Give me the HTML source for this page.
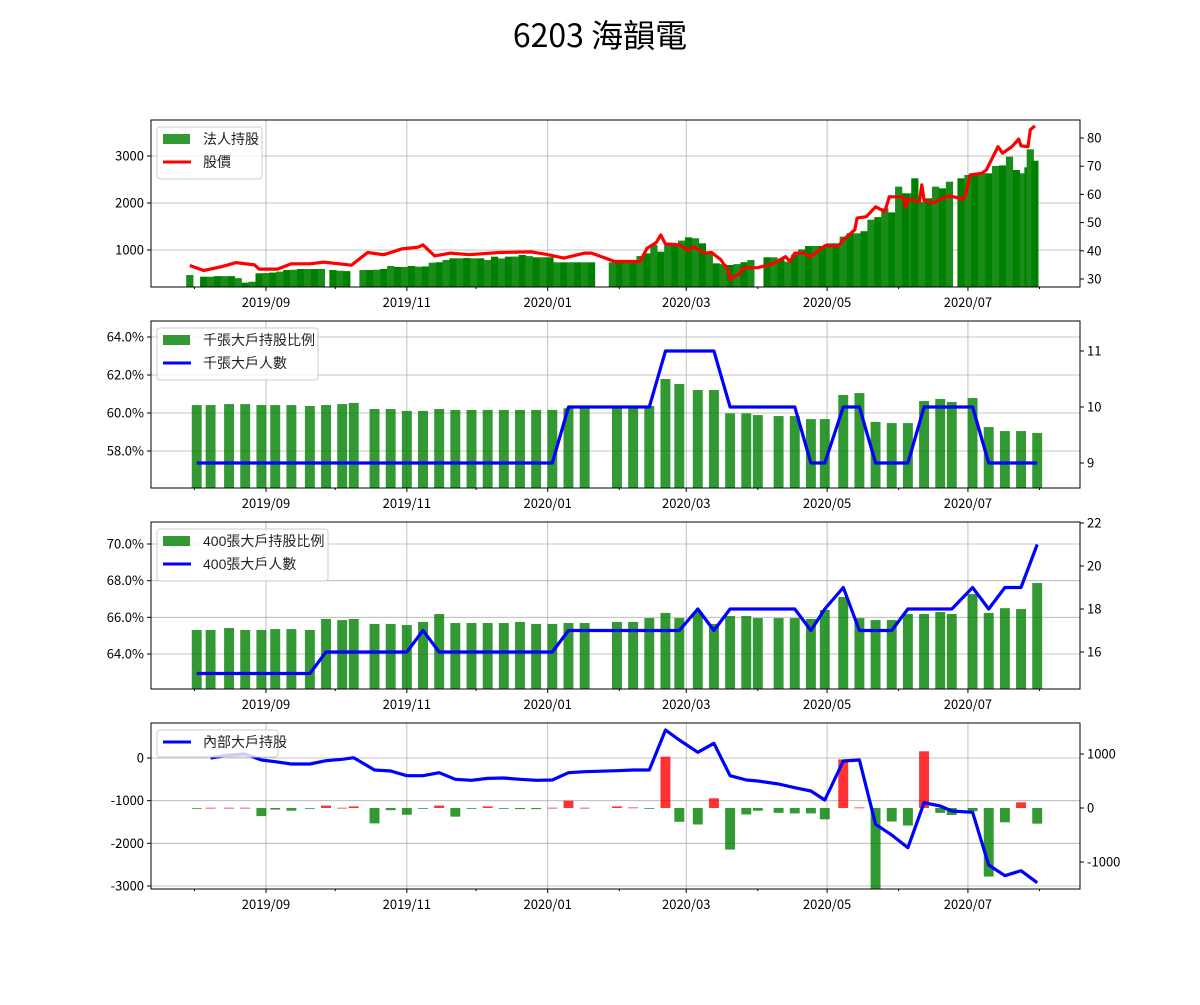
<!DOCTYPE html>
<html><head><meta charset="utf-8"><style>
body{margin:0;background:#fff;width:1200px;height:1000px;overflow:hidden}
svg text{font-family:"Liberation Sans","Noto Sans CJK TC",sans-serif}
svg text.tk{font-family:"Noto Sans CJK TC","Liberation Sans",sans-serif}
</style></head><body>
<svg id="chart" width="1200" height="1000" xmlns="http://www.w3.org/2000/svg">
<rect width="1200" height="1000" fill="#fff"/>
<text x="600" y="47" text-anchor="middle" font-size="32" fill="#000" style="font-family:'Noto Sans CJK TC',sans-serif">6203 海韻電</text>
</svg>
<script>
// ---- data ----
const weekDates=["2019-08-02","2019-08-08","2019-08-16","2019-08-23","2019-08-30","2019-09-05","2019-09-12","2019-09-20","2019-09-27","2019-10-04","2019-10-09","2019-10-18","2019-10-25","2019-11-01","2019-11-08","2019-11-15","2019-11-22","2019-11-29","2019-12-06","2019-12-13","2019-12-20","2019-12-27","2020-01-03","2020-01-10","2020-01-17","2020-01-31","2020-02-07","2020-02-14","2020-02-21","2020-02-27","2020-03-06","2020-03-13","2020-03-20","2020-03-27","2020-04-01","2020-04-10","2020-04-17","2020-04-24","2020-04-30","2020-05-08","2020-05-15","2020-05-22","2020-05-29","2020-06-05","2020-06-12","2020-06-19","2020-06-24","2020-07-03","2020-07-10","2020-07-17","2020-07-24","2020-07-31"];
const big1000Pct=[60.42,60.42,60.47,60.47,60.42,60.42,60.42,60.37,60.42,60.47,60.53,60.21,60.21,60.11,60.11,60.21,60.16,60.16,60.16,60.16,60.16,60.16,60.16,60.25,60.25,60.25,60.25,60.37,61.79,61.53,61.21,61.21,59.98,59.98,59.89,59.84,59.84,59.68,59.68,60.95,61.05,59.53,59.47,59.47,60.63,60.74,60.58,60.79,59.26,59.05,59.05,58.95];
const big1000Cnt=[9,9,9,9,9,9,9,9,9,9,9,9,9,9,9,9,9,9,9,9,9,9,9,10,10,10,10,10,11,11,11,11,10,10,10,10,10,9,9,10,10,9,9,9,10,10,10,10,9,9,9,9];
const big400Pct=[65.31,65.31,65.42,65.31,65.31,65.36,65.36,65.31,65.91,65.85,65.91,65.64,65.64,65.58,65.75,66.18,65.69,65.69,65.69,65.69,65.75,65.64,65.64,65.69,65.69,65.75,65.75,65.96,66.24,65.96,66.29,65.64,66.07,66.07,65.96,65.96,65.96,65.91,66.4,67.11,65.96,65.85,65.85,66.18,66.18,66.29,66.18,67.27,66.24,66.5,66.45,67.87];
const big400Cnt=[15,15,15,15,15,15,15,15,16,16,16,16,16,16,17,16,16,16,16,16,16,16,16,17,17,17,17,17,17,17,18,17,18,18,18,18,18,17,18,19,17,17,17,18,18,18,18,19,18,19,19,21];
const insiderHold=[null,0,70,94,-47,-87,-141,-141,-63,-30,7,-281,-305,-414,-414,-344,-500,-523,-477,-469,-500,-523,-516,-344,-320,-297,-281,-281,656,422,133,344,-414,-516,-539,-609,-695,-773,-984,-70,-47,-1555,-1805,-2102,-1047,-1125,-1242,-1273,-2508,-2758,-2641,-2922];
const insiderChg=[0,5,5,5,-150,-30,-50,-10,45,5,30,-285,-40,-125,-10,45,-160,-15,30,0,-20,-20,5,135,5,30,10,0,950,-255,-305,180,-770,-120,-50,-90,-100,-100,-210,900,10,-1600,-250,-325,1050,-90,-130,-60,-1270,-265,105,-290];
const priceDates=["2019-07-30","2019-08-05","2019-08-13","2019-08-19","2019-08-27","2019-08-29","2019-09-06","2019-09-12","2019-09-20","2019-09-26","2019-10-08","2019-10-15","2019-10-22","2019-10-30","2019-11-06","2019-11-08","2019-11-13","2019-11-20","2019-11-28","2019-12-11","2019-12-25","2019-12-31","2020-01-08","2020-01-17","2020-01-20","2020-01-30","2020-02-10","2020-02-13","2020-02-17","2020-02-19","2020-02-21","2020-02-27","2020-03-02","2020-03-04","2020-03-09","2020-03-12","2020-03-16","2020-03-19","2020-03-20","2020-03-24","2020-03-26","2020-04-01","2020-04-08","2020-04-13","2020-04-15","2020-04-17","2020-04-21","2020-04-24","2020-04-30","2020-05-06","2020-05-08","2020-05-13","2020-05-14","2020-05-18","2020-05-22","2020-05-26","2020-05-28","2020-06-03","2020-06-04","2020-06-05","2020-06-10","2020-06-11","2020-06-12","2020-06-16","2020-06-19","2020-06-23","2020-06-29","2020-06-30","2020-07-02","2020-07-07","2020-07-09","2020-07-14","2020-07-16","2020-07-20","2020-07-23","2020-07-24","2020-07-27","2020-07-28","2020-07-30"];
const priceVals=[34.8,33.0,34.4,35.8,35.0,33.5,33.5,35.4,35.4,36.0,34.9,39.4,38.6,40.7,41.3,42.1,38.2,39.2,38.6,39.4,39.6,38.8,37.4,39.2,39.2,36.2,36.2,40.9,42.9,45.6,42.4,42.1,40.1,41.5,39.2,39.4,36.8,33.2,29.9,31.8,34.0,34.0,35.6,37.9,36.2,39.2,39.2,37.9,41.8,41.8,43.9,47.4,51.6,52.1,55.6,53.9,59.2,59.0,55.5,58.3,57.4,63.4,57.9,56.9,58.3,59.5,58.3,59.8,66.9,67.5,68.7,76.9,74.6,76.9,79.6,77.2,76.9,82.9,84.3];
const holdDates=["2019-07-30","2019-08-05","2019-08-08","2019-08-11","2019-08-14","2019-08-17","2019-08-20","2019-08-23","2019-08-26","2019-08-29","2019-09-01","2019-09-04","2019-09-07","2019-09-10","2019-09-13","2019-09-16","2019-09-19","2019-09-22","2019-09-25","2019-09-30","2019-10-03","2019-10-06","2019-10-13","2019-10-16","2019-10-19","2019-10-22","2019-10-25","2019-10-28","2019-10-31","2019-11-03","2019-11-06","2019-11-09","2019-11-12","2019-11-15","2019-11-18","2019-11-21","2019-11-24","2019-11-27","2019-11-30","2019-12-03","2019-12-06","2019-12-09","2019-12-12","2019-12-15","2019-12-18","2019-12-21","2019-12-24","2019-12-27","2019-12-30","2020-01-02","2020-01-05","2020-01-08","2020-01-11","2020-01-14","2020-01-17","2020-01-20","2020-01-29","2020-02-01","2020-02-04","2020-02-07","2020-02-10","2020-02-13","2020-02-16","2020-02-19","2020-02-22","2020-02-25","2020-02-28","2020-03-02","2020-03-05","2020-03-08","2020-03-11","2020-03-14","2020-03-17","2020-03-20","2020-03-23","2020-03-26","2020-03-29","2020-04-05","2020-04-08","2020-04-11","2020-04-14","2020-04-17","2020-04-20","2020-04-23","2020-04-26","2020-04-29","2020-05-02","2020-05-05","2020-05-08","2020-05-11","2020-05-14","2020-05-17","2020-05-20","2020-05-23","2020-05-26","2020-05-29","2020-06-01","2020-06-04","2020-06-07","2020-06-08","2020-06-11","2020-06-14","2020-06-17","2020-06-20","2020-06-23","2020-06-28","2020-07-01","2020-07-04","2020-07-07","2020-07-10","2020-07-13","2020-07-16","2020-07-19","2020-07-22","2020-07-25","2020-07-27","2020-07-28","2020-07-30"];
const holdVals=[468,432,432,444,444,444,400,305,325,504,510,520,540,574,580,596,596,596,596,574,560,551,574,574,580,596,660,638,640,660,645,650,730,740,787,823,823,830,823,823,787,858,820,858,860,894,870,845,845,845,738,738,738,738,738,738,738,751,751,751,872,929,1106,965,1106,1106,1200,1270,1250,1142,929,716,700,681,700,740,787,845,845,800,751,900,1014,1085,1085,1085,1142,1142,1284,1355,1355,1400,1645,1700,1887,1800,2348,2206,2206,2525,2028,2100,2348,2312,2454,2525,2596,2632,2632,2632,2787,2800,2986,2702,2632,2759,3142,2900];
const xMajor=["2019-09-01","2019-11-01","2020-01-01","2020-03-01","2020-05-01","2020-07-01"];
const xMajorLabels=["2019/09","2019/11","2020/01","2020/03","2020/05","2020/07"];
const xMinor=["2019-08-01","2019-10-01","2019-12-01","2020-02-01","2020-04-01","2020-06-01","2020-08-01"];
</script>
<script>
const NS="http://www.w3.org/2000/svg";
const svg=document.getElementById('chart');
const L=151,R=1080;
const T0=Date.UTC(2019,8,1);
function days(s){const p=s.split('-');return (Date.UTC(+p[0],+p[1]-1,+p[2])-T0)/86400000;}
function X(s){return 266+days(s)*2.309;}
function mk(tag,attrs,parent){const e=document.createElementNS(NS,tag);for(const k in attrs)e.setAttribute(k,attrs[k]);(parent||svg).appendChild(e);return e;}
function lin(v0,y0,v1,y1){return v=>y0+(v-v0)*(y1-y0)/(v1-v0);}
const panels=[
 {id:'p1',top:120,bot:287,yl:lin(1000,250,3000,156),yr:lin(30,279,80,138),lt:[1000,2000,3000],lf:v=>String(v),rt:[30,40,50,60,70,80],rf:v=>String(v)},
 {id:'p2',top:321,bot:488,yl:lin(60,413,62,375),yr:lin(9,463,11,351),lt:[58,60,62,64],lf:v=>v.toFixed(1)+'%',rt:[9,10,11],rf:v=>String(v)},
 {id:'p3',top:522,bot:689,yl:lin(64,654,70,544),yr:lin(16,652,22,523),lt:[64,66,68,70],lf:v=>v.toFixed(1)+'%',rt:[16,18,20,22],rf:v=>String(v)},
 {id:'p4',top:723,bot:889,yl:lin(0,758,-3000,886),yr:lin(0,808,1000,754),lt:[-3000,-2000,-1000,0],lf:v=>String(v),rt:[-1000,0,1000],rf:v=>String(v)}
];
panels.forEach((p,i)=>{
 const g=mk('g',{});
 
 
 p.g=g;
 const cp=mk('clipPath',{id:'clip'+i},g);
 mk('rect',{x:L,y:p.top,width:R-L,height:p.bot-p.top},cp);
 p.clip='url(#clip'+i+')';
 xMajor.forEach(d=>{const x=X(d);const l=mk('line',{x1:x,x2:x,y1:p.top,y2:p.bot,stroke:'#b0b0b0','stroke-width':0.8},g);});
 p.lt.forEach(v=>{const y=p.yl(v);const l=mk('line',{x1:L,x2:R,y1:y,y2:y,stroke:'#b0b0b0','stroke-width':0.8},g);});
});
function frame(p,i){
 const g=p.g;
 const fr=mk('rect',{x:L,y:p.top,width:R-L,height:p.bot-p.top,fill:'none',stroke:'#000','stroke-width':1},g);
 
 p.lt.forEach(v=>{const y=p.yl(v);mk('line',{x1:L-4,x2:L,y1:y,y2:y,stroke:'#000'},g);
  const t=mk('text',{class:'tk',x:L-7,y:y+4.5,'text-anchor':'end','font-size':13,fill:'#000'},g);t.textContent=p.lf(v);
  });
 p.rt.forEach(v=>{const y=p.yr(v);mk('line',{x1:R,x2:R+4,y1:y,y2:y,stroke:'#000'},g);
  const t=mk('text',{class:'tk',x:R+7,y:y+4.5,'font-size':13,fill:'#000'},g);t.textContent=p.rf(v);
  });
 xMajor.forEach((d,k)=>{const x=X(d);mk('line',{x1:x,x2:x,y1:p.bot,y2:p.bot+4,stroke:'#000'},g);
  const t=mk('text',{class:'tk',x:x,y:p.bot+20,'text-anchor':'middle','font-size':13,fill:'#000'},g);t.textContent=xMajorLabels[k];
  });
 xMinor.forEach(d=>{const x=X(d);mk('line',{x1:x,x2:x,y1:p.bot,y2:p.bot+2,stroke:'#000'},g);});
}
function legend(p,entries,w){
 const g=mk('g',{},p.g);
 
 const h=entries.length*24+4;
 mk('rect',{x:157,y:p.top+7,width:w,height:h,rx:3,fill:'#fff','fill-opacity':0.8,stroke:'#ccc'},g);
 entries.forEach((e,k)=>{
  const cy=p.top+19+k*23;
  if(e.type==='bar')mk('rect',{x:163,y:cy-5,width:27,height:10,fill:e.color,'fill-opacity':0.8},g);
  else mk('line',{x1:163,x2:191,y1:cy,y2:cy,stroke:e.color,'stroke-width':3},g);
  const t=mk('text',{x:203,y:cy+5,'font-size':14,fill:'#222'},g);t.textContent=e.label;
  
 });
}
function line(p,dates,vals,ys,color,name){
 let d='',pen=false;
 vals.forEach((v,k)=>{if(v===null){pen=false;return;}d+=(pen?'L':'M')+X(dates[k]).toFixed(1)+','+ys(v).toFixed(1);pen=true;});
 const e=mk('path',{d:d,fill:'none',stroke:color,'stroke-width':3.2,'stroke-linejoin':'round','clip-path':p.clip},p.g);
 
}
function bars(p,dates,vals,ys,w,colorFn,name){
 const y0=ys===p.yr&&p.id==='p4'?p.yr(0):p.bot;
 vals.forEach((v,k)=>{
  const x=X(dates[k]);const y=ys(v);
  const top=p.id==='p4'?Math.min(y,y0):y, h=p.id==='p4'?Math.max(Math.abs(y-y0),0.8):(p.bot-y);
  const r=mk('rect',{x:(x-w/2).toFixed(2),y:top.toFixed(2),width:w,height:h.toFixed(2),fill:colorFn(v),'fill-opacity':0.8,'clip-path':p.clip},p.g);
  
 });
}
const [p1,p2,p3,p4]=panels;
const bw=4.3*2.309;
const hb=mk('g',{},p1.g);
holdVals.forEach((v,k)=>{const x=X(holdDates[k]);const y=p1.yl(v);
 const r=mk('rect',{x:(x-3.6).toFixed(2),y:y.toFixed(2),width:7.2,height:(p1.bot-y).toFixed(2),fill:k%2?'#008000':'#1a8c1a','clip-path':p1.clip},hb);
 });
line(p1,priceDates,priceVals,p1.yr,'#ff0000','price-line');
frame(p1);legend(p1,[{type:'bar',color:'green',label:'法人持股'},{type:'line',color:'#ff0000',label:'股價'}],105);
bars(p2,weekDates,big1000Pct,p2.yl,bw,()=>'green','big-1000-pct-bar');
line(p2,weekDates,big1000Cnt,p2.yr,'#0000ff','big-1000-count-line');
frame(p2);legend(p2,[{type:'bar',color:'green',label:'千張大戶持股比例'},{type:'line',color:'#0000ff',label:'千張大戶人數'}],161);
bars(p3,weekDates,big400Pct,p3.yl,bw,()=>'green','big-400-pct-bar');
line(p3,weekDates,big400Cnt,p3.yr,'#0000ff','big-400-count-line');
frame(p3);legend(p3,[{type:'bar',color:'green',label:'400張大戶持股比例'},{type:'line',color:'#0000ff',label:'400張大戶人數'}],171);
bars(p4,weekDates,insiderChg,p4.yr,bw,v=>v>0?'#ff0000':'green','insider-change-bar');
line(p4,weekDates,insiderHold,p4.yl,'#0000ff','insider-holding-line');
frame(p4);
(function(){const g=mk('g',{},p4.g);
 mk('rect',{x:157,y:730,width:121,height:27,rx:3,fill:'#fff','fill-opacity':0.8,stroke:'#ccc'},g);
 mk('line',{x1:163,x2:191,y1:742,y2:742,stroke:'#0000ff','stroke-width':3},g);
 const t=mk('text',{x:203,y:747,'font-size':14,fill:'#222'},g);t.textContent='內部大戶持股';
 })();
</script>
</body></html>
